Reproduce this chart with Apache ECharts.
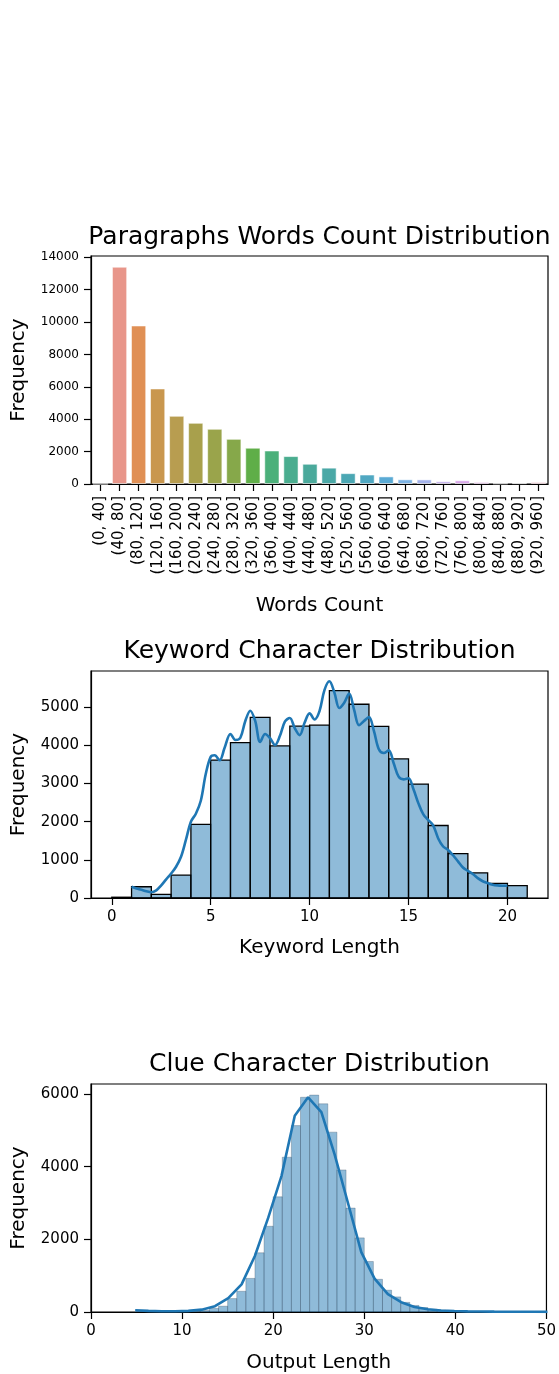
<!DOCTYPE html>
<html><head><meta charset="utf-8">
<script src="https://cdn.jsdelivr.net/npm/echarts@6/dist/echarts.min.js"></script>
<style>html,body{margin:0;padding:0;background:#fff}#c{width:559px;height:1374px}</style>
</head><body><div id="c"></div>
<script>
// ---------- Chart 1: Paragraphs Words Count Distribution ----------
const wordCategories = ['(0, 40]','(40, 80]','(80, 120]','(120, 160]','(160, 200]','(200, 240]','(240, 280]','(280, 320]','(320, 360]','(360, 400]','(400, 440]','(440, 480]','(480, 520]','(520, 560]','(560, 600]','(600, 640]','(640, 680]','(680, 720]','(720, 760]','(760, 800]','(800, 840]','(840, 880]','(880, 920]','(920, 960]'];
const wordCounts = [0, 13420, 9790, 5900, 4210, 3780, 3410, 2790, 2240, 2070, 1725, 1250, 1010, 670, 585, 470, 290, 285, 170, 230, 120, 30, 50, 120];
const wordColors = ['#e8929f','#e8968a','#e09055','#c9974e','#b89d50','#a8a04c','#9aa44b','#86a84a','#5fae48','#4bb07a','#4aad8f','#4aa99b','#4aa8a6','#4ba7b3','#50a8c2','#5aaad4','#7cb2e3','#a3b2ea','#c0aceb','#d8a6e8','#d990dc','#df8fcc','#e391bb','#e59aaa'];
const wordYTicks = [0, 2000, 4000, 6000, 8000, 10000, 12000, 14000];

// ---------- Chart 2: Keyword Character Distribution ----------
const kwBinStart = [0,1,2,3,4,5,6,7,8,9,10,11,12,13,14,15,16,17,18,19,20];
const kwBinWidth = 1;
const kwCounts = [20, 295, 95, 600, 1930, 3615, 4070, 4735, 3985, 4505, 4530, 5435, 5078, 4500, 3645, 2985, 1900, 1165, 660, 385, 325];
const kwKdeX = [1.0,1.25,1.5,1.75,2.0,2.25,2.5,2.75,3.0,3.25,3.5,3.75,4.0,4.25,4.5,4.75,5.0,5.2,5.45,5.7,6.0,6.25,6.5,6.75,7.0,7.25,7.5,7.75,8.0,8.25,8.5,8.75,9.0,9.25,9.5,9.75,10.0,10.25,10.5,10.75,11.0,11.25,11.5,11.75,12.0,12.25,12.5,12.75,13.0,13.25,13.5,13.75,14.0,14.25,14.5,14.75,15.0,15.25,15.5,15.75,16.0,16.25,16.5,16.75,17.0,17.25,17.5,17.75,18.0,18.25,18.5,18.75,19.0,19.25,19.5,19.75,20.0];
const kwKdeY = [295,250,215,175,150,200,330,490,640,820,1080,1530,2000,2210,2550,3250,3700,3740,3610,3930,4300,4140,4200,4640,4910,4640,4090,4300,4190,4010,4250,4620,4720,4450,4270,4600,4840,4680,4900,5450,5680,5390,4980,5120,5360,4930,4530,4640,4740,4380,3900,3800,3870,3530,3180,3110,3140,2850,2480,2190,2040,1900,1560,1350,1260,1120,960,800,710,630,520,440,390,350,330,322,320];
const kwXTicks = [0, 5, 10, 15, 20];
const kwYTicks = [0, 1000, 2000, 3000, 4000, 5000];

// ---------- Chart 3: Clue Character Distribution ----------
const clueBinStart = [5,6,7,8,9,10,11,12,13,14,15,16,17,18,19,20,21,22,23,24,25,26,27,28,29,30,31,32,33,34,35,36,37,38,39,40,41,42,43,44,45,46,47,48,49];
const clueBinWidth = 1;
const clueCounts = [8,5,5,6,8,10,18,40,100,160,370,570,925,1630,2360,3170,4260,5130,5910,5970,5730,4950,3910,2860,2040,1390,900,600,415,265,180,120,75,50,32,22,15,10,7,5,4,3,2,2,1];
const clueKdeX = [4.85,6.31,7.77,9.23,10.69,12.15,13.61,15.07,16.53,17.99,19.45,20.91,22.37,23.83,25.29,26.75,28.21,29.67,31.13,32.59,34.05,35.51,36.97,38.43,39.89,41.35,42.81,44.27,45.73,47.19,48.65,50.11];
const clueKdeY = [50,30,22,22,30,65,160,380,760,1540,2590,3740,5400,5910,5500,4330,3000,1650,920,490,270,140,75,42,26,17,12,9,7,6,5,4];
const clueXTicks = [0, 10, 20, 30, 40, 50];
const clueYTicks = [0, 2000, 4000, 6000];

const FONT = 'DejaVu Sans';
const chart = echarts.init(document.getElementById('c'), null, {renderer: 'canvas'});

function histRenderer(fill, stroke, lw) {
  return function (params, api) {
    const x0 = api.value(0), x1 = api.value(1), v = api.value(2);
    const p0 = api.coord([x0, v]);
    const p1 = api.coord([x1, 0]);
    return {
      type: 'rect',
      shape: {x: p0[0], y: p0[1], width: p1[0] - p0[0], height: p1[1] - p0[1]},
      style: {fill: fill, stroke: stroke, lineWidth: lw}
    };
  };
}

const plain = v => String(v);
const L = 91, W = 457;
const grids = [
  {left: L, width: W, top: 256, height: 228},
  {left: L, width: W, top: 671, height: 227},
  {left: L, width: W, top: 1084, height: 229}
];
const gridStyle = {show: true, borderColor: '#000', borderWidth: 1.2, backgroundColor: 'transparent', containLabel: false};

function tickStyle(){ return {show: true, inside: false, length: 7, lineStyle: {color: '#000', width: 1.2}}; }
function lineStyleAxis(){ return {show: true, onZero: false, lineStyle: {color: '#000', width: 1.2}}; }

const titleStyle = {fontFamily: FONT, fontSize: 25, fontWeight: 'normal', color: '#000'};
const titleX = L + W / 2 - 5;

const option = {
  animation: false,
  backgroundColor: '#fff',
  title: [
    {text: 'Paragraphs Words Count Distribution', left: titleX, textAlign: 'center', top: 220, textStyle: titleStyle},
    {text: 'Keyword Character Distribution', left: titleX, textAlign: 'center', top: 634, textStyle: titleStyle},
    {text: 'Clue Character Distribution', left: titleX, textAlign: 'center', top: 1047, textStyle: titleStyle}
  ],
  grid: grids.map(g => Object.assign({}, gridStyle, g)),
  xAxis: [
    {
      gridIndex: 0, type: 'category', data: wordCategories,
      name: 'Words Count', nameLocation: 'middle', nameGap: 112,
      nameTextStyle: {fontFamily: FONT, fontSize: 20, color: '#000'},
      axisLine: lineStyleAxis(),
      axisTick: Object.assign(tickStyle(), {alignWithLabel: true, interval: 0}),
      axisLabel: {interval: 0, rotate: 90, margin: 12, fontFamily: FONT, fontSize: 15, color: '#000'},
      splitLine: {show: false}
    },
    {
      gridIndex: 1, type: 'value', min: -1.05, max: 22.05,
      name: 'Keyword Length', nameLocation: 'middle', nameGap: 40,
      nameTextStyle: {fontFamily: FONT, fontSize: 20, color: '#000'},
      axisLine: lineStyleAxis(),
      axisTick: Object.assign(tickStyle(), {customValues: kwXTicks}),
      axisLabel: {customValues: kwXTicks, formatter: plain, margin: 12, fontFamily: FONT, fontSize: 15, color: '#000'},
      splitLine: {show: false}
    },
    {
      gridIndex: 2, type: 'value', min: 0, max: 50, interval: 10,
      name: 'Output Length', nameLocation: 'middle', nameGap: 41,
      nameTextStyle: {fontFamily: FONT, fontSize: 20, color: '#000'},
      axisLine: lineStyleAxis(),
      axisTick: Object.assign(tickStyle(), {customValues: clueXTicks}),
      axisLabel: {customValues: clueXTicks, formatter: plain, margin: 12, fontFamily: FONT, fontSize: 15, color: '#000'},
      splitLine: {show: false}
    }
  ],
  yAxis: [
    {
      gridIndex: 0, type: 'value', min: 0, max: 14080,
      name: 'Frequency', nameLocation: 'middle', nameGap: 62,
      nameTextStyle: {fontFamily: FONT, fontSize: 20, color: '#000'},
      axisLine: lineStyleAxis(),
      axisTick: Object.assign(tickStyle(), {customValues: wordYTicks}),
      axisLabel: {customValues: wordYTicks, formatter: plain, margin: 12, fontFamily: FONT, fontSize: 12, color: '#000'},
      splitLine: {show: false}
    },
    {
      gridIndex: 1, type: 'value', min: 0, max: 5950,
      name: 'Frequency', nameLocation: 'middle', nameGap: 62,
      nameTextStyle: {fontFamily: FONT, fontSize: 20, color: '#000'},
      axisLine: lineStyleAxis(),
      axisTick: Object.assign(tickStyle(), {customValues: kwYTicks}),
      axisLabel: {customValues: kwYTicks, formatter: plain, margin: 12, fontFamily: FONT, fontSize: 15, color: '#000'},
      splitLine: {show: false}
    },
    {
      gridIndex: 2, type: 'value', min: 0, max: 6275,
      name: 'Frequency', nameLocation: 'middle', nameGap: 62,
      nameTextStyle: {fontFamily: FONT, fontSize: 20, color: '#000'},
      axisLine: lineStyleAxis(),
      axisTick: Object.assign(tickStyle(), {customValues: clueYTicks}),
      axisLabel: {customValues: clueYTicks, formatter: plain, margin: 12, fontFamily: FONT, fontSize: 15, color: '#000'},
      splitLine: {show: false}
    }
  ],
  series: [
    {
      type: 'bar', xAxisIndex: 0, yAxisIndex: 0, barCategoryGap: '20%',
      data: wordCounts.map((v, i) => ({value: v, itemStyle: {color: wordColors[i], borderColor: 'rgba(255,255,255,0.55)', borderWidth: 1}}))
    },
    {
      type: 'custom', xAxisIndex: 1, yAxisIndex: 1,
      renderItem: histRenderer('rgba(31,119,180,0.5)', '#000', 1.3),
      encode: {x: [0, 1], y: 2},
      data: kwBinStart.map((s, i) => [s, s + kwBinWidth, kwCounts[i]])
    },
    {
      type: 'line', xAxisIndex: 1, yAxisIndex: 1, smooth: 0.35, showSymbol: false, symbol: 'none',
      lineStyle: {color: '#1f77b4', width: 2.6}, z: 5,
      data: kwKdeX.map((x, i) => [x, kwKdeY[i]])
    },
    {
      type: 'custom', xAxisIndex: 2, yAxisIndex: 2, clip: true,
      renderItem: histRenderer('rgba(31,119,180,0.5)', 'rgba(40,60,80,0.35)', 0.8),
      encode: {x: [0, 1], y: 2},
      data: clueBinStart.map((s, i) => [s, s + clueBinWidth, clueCounts[i]])
    },
    {
      type: 'line', xAxisIndex: 2, yAxisIndex: 2, smooth: false, showSymbol: false, symbol: 'none', clip: true,
      lineStyle: {color: '#1f77b4', width: 2.6}, z: 5,
      data: clueKdeX.map((x, i) => [x, clueKdeY[i]])
    }
  ]
};
chart.setOption(option);
</script>
</body></html>
